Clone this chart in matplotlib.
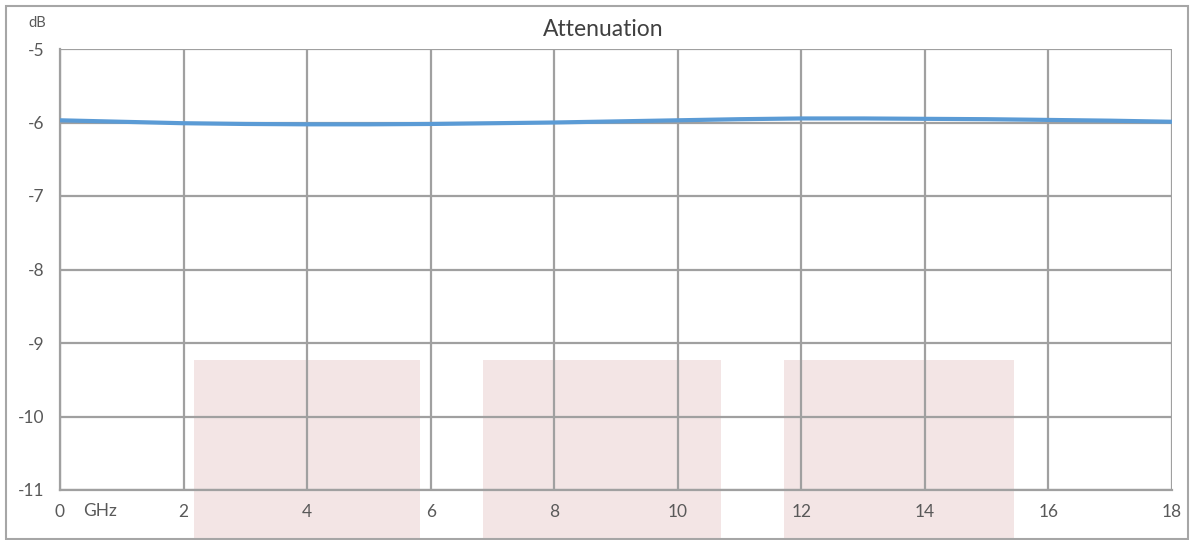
import matplotlib.pyplot as plt
from matplotlib.patches import Rectangle

plt.rcParams['font.family'] = ['Lato', 'DejaVu Sans']
plt.rcParams['axes.unicode_minus'] = False

freq = [0, 1, 2, 3, 4, 5, 6, 7, 8, 9, 10, 11, 12, 13, 14, 15, 16, 17, 18]
atten = [-5.97, -5.99, -6.01, -6.02, -6.025, -6.025, -6.02, -6.01, -6.0, -5.985,
         -5.97, -5.955, -5.945, -5.945, -5.95, -5.955, -5.965, -5.975, -5.99]

# shaded bands (GHz start, GHz end), they run down past the axis
bands = [(2.17, 5.83), (6.84, 10.70), (11.72, 15.44)]
band_top = -9.23
band_bottom = -11.7

grey_txt = '#595959'
grid_col = '#a0a0a0'

fig = plt.figure(figsize=(11.93, 5.40), dpi=100)
ax = fig.add_axes([60/1193, 50/540, 1112/1193, 441/540])

for x0, x1 in bands:
    ax.add_patch(Rectangle((x0, band_bottom), x1 - x0, band_top - band_bottom,
                           facecolor='#f3e5e5', edgecolor='none', zorder=0,
                           clip_on=False))

ax.plot(freq, atten, color='#5b9bd5', lw=3, solid_capstyle='butt', zorder=3)

ax.set_xlim(0, 18)
ax.set_ylim(-11, -5)
ax.set_xticks(range(0, 19, 2))
ax.set_yticks(range(-11, -4))
ax.grid(True, color=grid_col, lw=1.6, zorder=1)
ax.set_axisbelow(False)
for s in ax.spines.values():
    s.set_visible(False)
ax.spines['left'].set_visible(True)
ax.spines['bottom'].set_visible(True)
ax.spines['left'].set_color(grid_col)
ax.spines['bottom'].set_color(grid_col)
ax.spines['left'].set_linewidth(1.6)
ax.spines['bottom'].set_linewidth(1.6)
ax.tick_params(length=0, labelsize=12.5, colors=grey_txt)
ax.tick_params(axis='x', pad=10)
ax.tick_params(axis='y', pad=11)

fig.text(603/1193, 1 - 30/540, 'Attenuation', fontsize=16.5, color='#404040',
         ha='center', va='center')
fig.text(37/1193, 1 - 23/540, 'dB', fontsize=10.5, color=grey_txt, ha='center', va='center')
fig.text(100/1193, 1 - 511/540, 'GHz', fontsize=12.5, color=grey_txt, ha='center', va='center')

fig.add_artist(Rectangle((6/1193, 1/540), 1182/1193, 533/540, transform=fig.transFigure,
                         fill=False, edgecolor='#a6a6a6', lw=1.5))

plt.savefig('out.png', dpi=100)
